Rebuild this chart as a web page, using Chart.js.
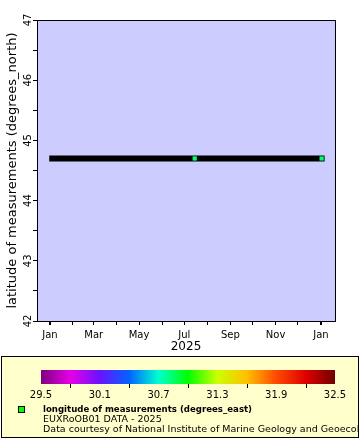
<!DOCTYPE html>
<html>
<head>
<meta charset="utf-8">
<script src="https://cdn.jsdelivr.net/npm/chart.js@4.4.0/dist/chart.umd.min.js"></script>
<style>
  html, body { margin: 0; padding: 0; background: #fff; }
</style>
</head>
<body>
<canvas id="chart" width="360" height="440"></canvas>
<script>
// ship track (drawn as the thick black line)
const trackDates = ['2024-12-31', '2026-01-06']
const trackLat = [44.7, 44.7]

// measurements, coloured by longitude
const pointDates = ['2025-07-15', '2026-01-02']
const pointLat = [44.7, 44.7]
const pointLon = [30.85, 30.85]

// ticks
const monthLabels = ['Jan', 'Feb', 'Mar', 'Apr', 'May', 'Jun', 'Jul', 'Aug', 'Sep', 'Oct', 'Nov', 'Dec', 'Jan']
const latTicks = [42, 42.5, 43, 43.5, 44, 44.5, 45, 45.5, 46, 46.5, 47]
const lonLabels = [29.5, 30.1, 30.7, 31.3, 31.9, 32.5]
const lonMinor = [29.8, 30.4, 31.0, 31.6, 32.2]

// colour scale for longitude
const cmapValues = [29.5, 29.8, 30.1, 30.4, 30.7, 31.0, 31.3, 31.6, 31.9, 32.2, 32.5]
const cmapColors = ['#7f007f', '#e600e6', '#6a12ff', '#0064ff', '#00ffd2', '#00ff00',
  '#ccff00', '#ffc000', '#ff4a00', '#e00000', '#700000']

const legendTitle = 'longitude of measurements (degrees_east)'
const legendLines = ['EUXRoOB01 DATA - 2025',
  'Data courtesy of National Institute of Marine Geology and Geoecology']

const dayOf = (s) => (Date.parse(s) - Date.parse('2025-01-01')) / 864e5
const monthTicks = monthLabels.map((_, m) => (Date.UTC(2025, m, 1) - Date.UTC(2025, 0, 1)) / 864e5)

let hex = (c) => [1, 3, 5].map((i) => parseInt(c.slice(i, i + 2), 16))
let lonColor = function (v) {
  for (let i = 0; i < cmapValues.length - 1; i++) {
    if (v <= cmapValues[i + 1]) {
      let t = (v - cmapValues[i]) / (cmapValues[i + 1] - cmapValues[i])
      let a = hex(cmapColors[i]), b = hex(cmapColors[i + 1])
      let c = a.map((x, k) => Math.round(x + (b[k] - x) * t))
      return 'rgb(' + c.join(',') + ')'
    }
  }
  return cmapColors[cmapColors.length - 1]
}

const font = 'DejaVu Sans'

//plot background, frame and colour-bar legend
const framePlugin = {
  id: 'frame',
  beforeDraw(chart) {
    const { ctx, chartArea: a } = chart
    ctx.save()
    ctx.fillStyle = '#fff'
    ctx.fillRect(0, 0, chart.width, chart.height)
    ctx.fillStyle = '#ccccff'
    ctx.fillRect(a.left, a.top, a.right - a.left, a.bottom - a.top)
    ctx.restore()
  },
  afterDraw(chart) {
    const { ctx, chartArea: a } = chart
    ctx.save()
    ctx.strokeStyle = '#000'
    ctx.lineWidth = 1
    ctx.strokeRect(a.left + 0.5, a.top + 0.5, a.right - a.left, a.bottom - a.top)

    // legend box
    ctx.fillStyle = '#ffffcc'
    ctx.fillRect(1, 356, 358, 82)
    ctx.strokeRect(1.5, 356.5, 357, 81)

    // colour bar
    const x0 = 41, x1 = 335, y0 = 370, h = 14
    const xOf = (v) => x0 + (v - 29.5) / 3 * (x1 - x0)
    let grad = ctx.createLinearGradient(x0, 0, x1, 0)
    cmapValues.forEach((v, i) => grad.addColorStop((v - 29.5) / 3, cmapColors[i]))
    ctx.fillStyle = grad
    ctx.fillRect(x0, y0, x1 - x0, h)
    ctx.beginPath()
    lonMinor.forEach((v) => {
      let x = Math.round(xOf(v)) + 0.5
      ctx.moveTo(x, y0 + h)
      ctx.lineTo(x, y0 + h + 4)
    })
    ctx.stroke()
    ctx.fillStyle = '#000'
    ctx.font = '10px "' + font + '"'
    ctx.textAlign = 'center'
    ctx.textBaseline = 'alphabetic'
    lonLabels.forEach((v) => ctx.fillText(v.toFixed(1), xOf(v), 398))

    // marker + text
    ctx.fillStyle = lonColor(31.0)
    ctx.fillRect(19, 407, 5, 5)
    ctx.strokeRect(18.5, 406.5, 6, 6)
    ctx.beginPath()
    ctx.rect(2, 357, 356, 80)
    ctx.clip()
    ctx.fillStyle = '#000'
    ctx.textAlign = 'left'
    ctx.font = 'bold 8.6px "' + font + '"'
    ctx.fillText(legendTitle, 43, 412)
    ctx.font = '9.5px "' + font + '"'
    legendLines.forEach((t, i) => ctx.fillText(t, 43, 422 + i * 10))
    ctx.restore()
  },
}

let ctx = document.getElementById('chart').getContext('2d')

var chart = new Chart(ctx, {
  type: 'line',
  data: {
    datasets: [
      {
        data: pointDates.map((d, i) => ({ x: dayOf(d), y: pointLat[i] })),
        showLine: false,
        pointStyle: 'rect',
        pointRadius: 3,
        pointBorderWidth: 0,
        pointBackgroundColor: pointLon.map(lonColor),
        order: 1,
      },
      {
        data: trackDates.map((d, i) => ({ x: dayOf(d), y: trackLat[i] })),
        borderColor: '#000',
        borderWidth: 6,
        borderCapStyle: 'butt',
        pointRadius: 0,
        order: 2,
      },
    ],
  },
  options: {
    responsive: false,
    animation: false,
    layout: { padding: { left: 0, right: 25, top: 20, bottom: 0 } },
    plugins: {
      legend: { display: false },
      tooltip: { enabled: false },
    },
    scales: {
      x: {
        type: 'linear',
        min: -17.5,
        max: 384,
        afterFit: (s) => { s.height = 119 },
        afterBuildTicks: (s) => { s.ticks = monthTicks.map((v) => ({ value: v })) },
        border: { display: false },
        grid: {
          drawOnChartArea: false,
          tickLength: 4,
          color: '#000',
          lineWidth: (c) => (c.tick && (c.tick.value === 0 || c.tick.value === 365) ? 2 : 1),
        },
        ticks: {
          autoSkip: false,
          maxRotation: 0,
          padding: 4,
          color: '#000',
          font: { family: font, size: 10 },
          callback: (v, i) => (i % 2 === 0 ? monthLabels[i] : ''),
        },
        title: {
          display: true,
          text: '2025',
          color: '#000',
          font: { family: font, size: 12 },
          padding: { top: 0, bottom: 86 },
        },
      },
      y: {
        min: 42,
        max: 47,
        afterFit: (s) => { s.width = 37 },
        afterBuildTicks: (s) => { s.ticks = latTicks.map((v) => ({ value: v })) },
        border: { display: false },
        grid: { drawOnChartArea: false, tickLength: 4, color: '#000' },
        ticks: {
          minRotation: 90,
          maxRotation: 90,
          crossAlign: 'center',
          padding: -2,
          color: '#000',
          font: { family: font, size: 10 },
          callback: (v) => (Number.isInteger(v) ? String(v) : ''),
        },
        title: {
          display: true,
          text: 'latitude of measurements (degrees_north)',
          color: '#000',
          font: { family: font, size: 13 },
          padding: { top: 5, bottom: 0 },
        },
      },
    },
  },
  plugins: [framePlugin],
})
</script>
</body>
</html>
